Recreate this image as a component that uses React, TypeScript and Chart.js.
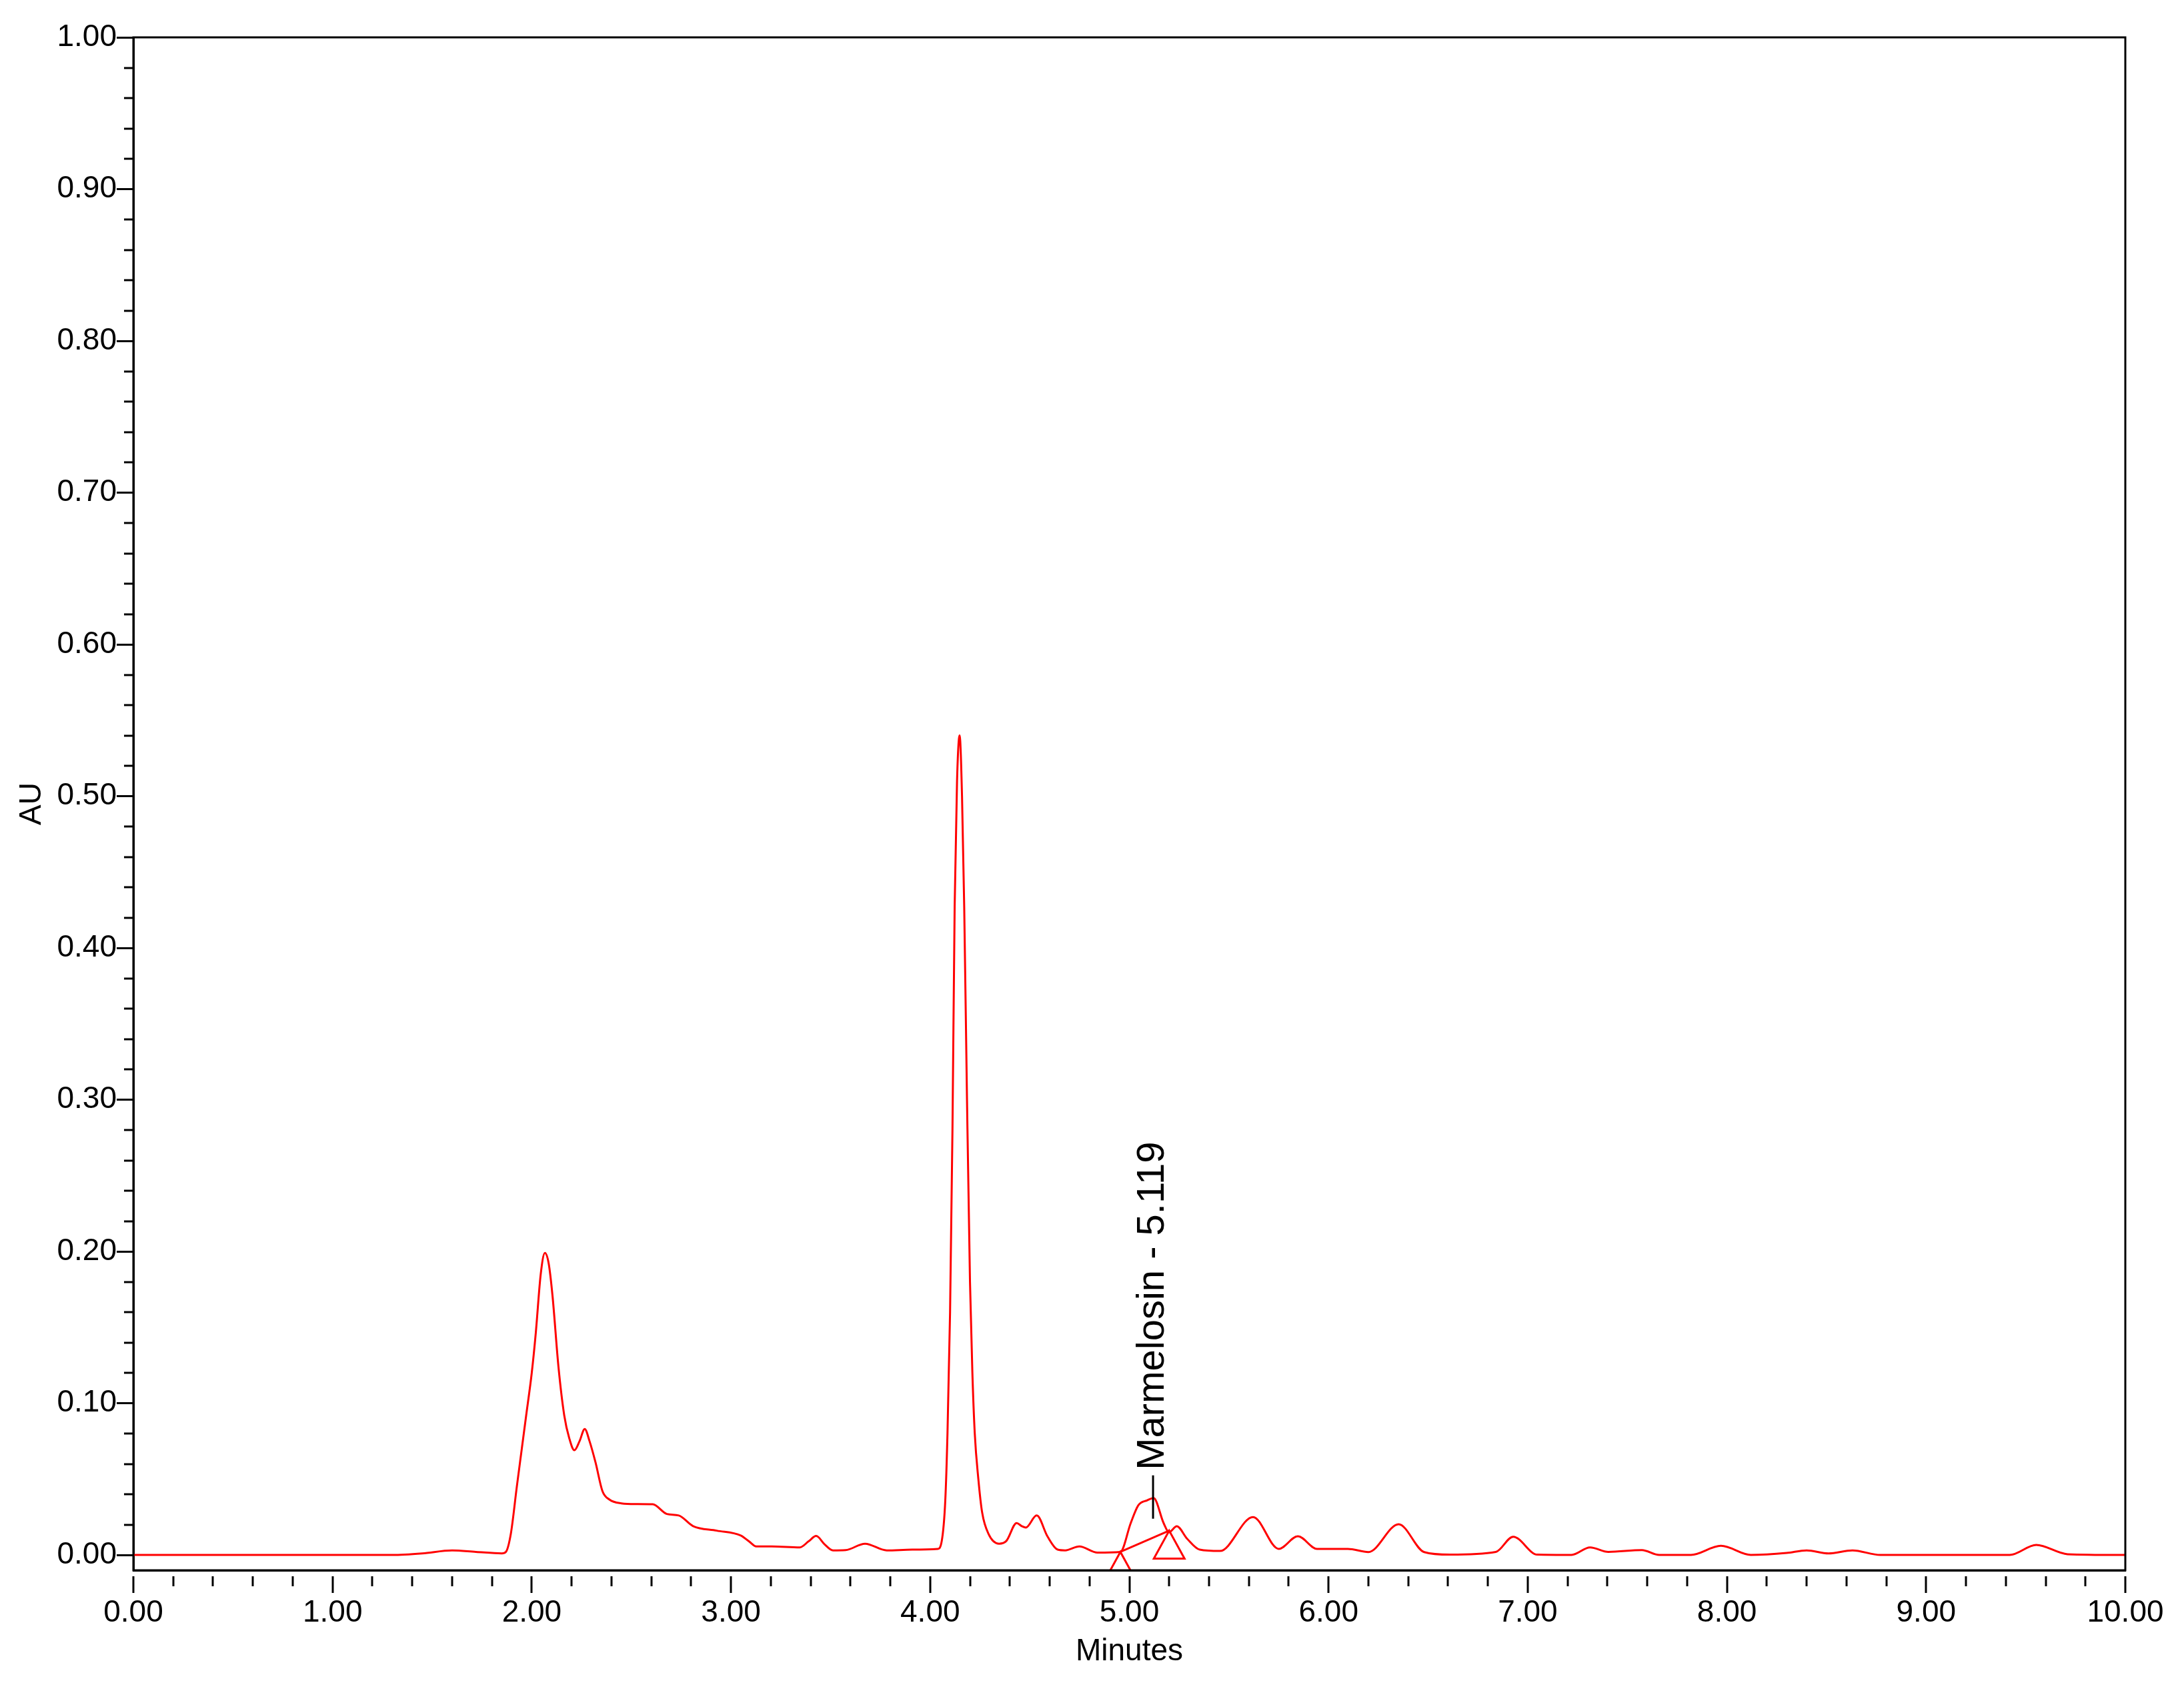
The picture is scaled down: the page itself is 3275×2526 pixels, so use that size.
import React, { useEffect, useRef } from 'react';
import { Chart, registerables } from 'chart.js';

Chart.register(...registerables);

// ---- data ----
const timeMin: number[] = [
  0.0, 0.3, 0.6, 1.0, 1.3, 1.45, 1.6, 1.72, 1.85,
  1.87, 1.895, 1.925, 1.95, 1.972, 2.0, 2.02, 2.045, 2.066, 2.085, 2.104, 2.134, 2.163, 2.188, 2.214,
  2.24, 2.266, 2.29, 2.32, 2.355, 2.39, 2.45, 2.52, 2.607, 2.678, 2.738, 2.81, 2.929, 3.049, 3.09,
  3.127, 3.204, 3.346, 3.39, 3.428, 3.47, 3.512, 3.576, 3.673, 3.782, 3.91, 4.038, 4.058, 4.076,
  4.087, 4.1, 4.112, 4.123, 4.135, 4.148, 4.16, 4.171, 4.185, 4.2, 4.212, 4.224, 4.242, 4.261, 4.294,
  4.346, 4.383, 4.434, 4.46, 4.48, 4.535, 4.589, 4.64, 4.678, 4.749, 4.84, 4.955,
  5.007, 5.045, 5.09, 5.122, 5.172, 5.199, 5.238, 5.29, 5.353, 5.455, 5.621, 5.75, 5.846, 5.942,
  6.097, 6.2, 6.352, 6.48, 6.61, 6.84, 6.927, 7.048, 7.22, 7.313, 7.405, 7.573, 7.66, 7.82, 7.97,
  8.12, 8.3, 8.4, 8.51, 8.63, 8.77, 9.42, 9.553, 9.71, 10.0,
];
const absorbance: number[] = [
  0.0, 0.0, 0.0, 0.0, 0.0, 0.001, 0.003, 0.002, 0.001,
  0.002, 0.014, 0.045, 0.07, 0.092, 0.12, 0.146, 0.185, 0.199, 0.192, 0.171, 0.124, 0.092, 0.077, 0.069,
  0.075, 0.083, 0.075, 0.061, 0.042, 0.0365, 0.034, 0.0335, 0.0334, 0.027, 0.026, 0.019, 0.016, 0.0128, 0.009,
  0.0056, 0.0056, 0.005, 0.009, 0.0125, 0.007, 0.003, 0.0032, 0.0074, 0.003, 0.0035, 0.004, 0.009, 0.036,
  0.08, 0.16, 0.28, 0.427, 0.51, 0.54, 0.5, 0.427, 0.3, 0.18, 0.12, 0.08, 0.05, 0.028, 0.0136,
  0.0074, 0.0093, 0.021, 0.019, 0.018, 0.026, 0.0122, 0.0035, 0.003, 0.0056, 0.0015, 0.002,
  0.021, 0.0327, 0.036, 0.0375, 0.021, 0.015, 0.0189, 0.0107, 0.0035, 0.0026, 0.025, 0.004, 0.0123, 0.004,
  0.004, 0.0019, 0.0202, 0.0019, 0.0002, 0.002, 0.012, 0.0002, 0.0, 0.005, 0.002, 0.0032, 0.0, 0.0, 0.006,
  0.0, 0.0013, 0.003, 0.001, 0.003, 0.0, 0.0, 0.0066, 0.0005, 0.0,
];

// integration baseline of the labelled peak (start, end)
const baselineTimes: number[] = [4.955, 5.2];
const baselineValues: number[] = [0.002, 0.016];

// labelled peak
const peakLabel = 'Marmelosin - 5.119';
const peakTime = 5.119;
const peakValue = 0.0375;

// axes
const xMajorTicks: number[] = [0, 1, 2, 3, 4, 5, 6, 7, 8, 9, 10];
const yMajorTicks: number[] = [0, 0.1, 0.2, 0.3, 0.4, 0.5, 0.6, 0.7, 0.8, 0.9, 1.0];
const xMinorStep = 0.2;
const yMinorStep = 0.02;
const xMin = 0;
const xMax = 10;
const yMin = -0.0101;
const yMax = 1.0;

const FONT = '"Liberation Sans", Arial, Helvetica, sans-serif';
const RED = '#ff0000';

const chromPlugin = {
  id: 'chromDecor',
  beforeDraw(chart: any) {
    const { ctx, width, height } = chart;
    ctx.save();
    ctx.fillStyle = '#ffffff';
    ctx.fillRect(0, 0, width, height);
    ctx.restore();
  },
  afterDraw(chart: any) {
    const { ctx, chartArea: a } = chart;
    const xs = chart.scales.x;
    const ys = chart.scales.y;
    ctx.save();

    // integration triangles (apex at baseline ends), clipped to plot
    ctx.save();
    ctx.beginPath();
    ctx.rect(a.left, a.top, a.right - a.left, a.bottom - a.top);
    ctx.clip();
    ctx.strokeStyle = RED;
    ctx.lineWidth = 3;
    for (let i = 0; i < baselineTimes.length; i++) {
      const px = xs.getPixelForValue(baselineTimes[i]);
      const py = ys.getPixelForValue(baselineValues[i]);
      ctx.beginPath();
      ctx.moveTo(px, py);
      ctx.lineTo(px - 23, py + 42);
      ctx.lineTo(px + 23, py + 42);
      ctx.closePath();
      ctx.stroke();
    }
    ctx.restore();

    // frame
    ctx.strokeStyle = '#000';
    ctx.lineWidth = 3;
    ctx.strokeRect(a.left, a.top, a.right - a.left, a.bottom - a.top);

    // x ticks (detached below axis)
    ctx.lineWidth = 3;
    const nx = Math.round((xMax - xMin) / xMinorStep);
    for (let i = 0; i <= nx; i++) {
      const v = xMin + i * xMinorStep;
      const major = xMajorTicks.some((m) => Math.abs(m - v) < 1e-6);
      const px = Math.round(xs.getPixelForValue(v));
      ctx.beginPath();
      ctx.moveTo(px, a.bottom + 9);
      ctx.lineTo(px, a.bottom + (major ? 34 : 24));
      ctx.stroke();
    }
    // y minor ticks
    const ny = Math.round((yMax - 0) / yMinorStep);
    for (let i = 0; i <= ny; i++) {
      const v = i * yMinorStep;
      const major = yMajorTicks.some((m) => Math.abs(m - v) < 1e-6);
      if (major) continue;
      const py = Math.round(ys.getPixelForValue(v));
      ctx.beginPath();
      ctx.moveTo(a.left - 14, py);
      ctx.lineTo(a.left, py);
      ctx.stroke();
    }

    // peak label
    const lx = xs.getPixelForValue(peakTime);
    const ly = ys.getPixelForValue(peakValue);
    ctx.strokeStyle = '#000';
    ctx.lineWidth = 3;
    ctx.beginPath();
    ctx.moveTo(lx, ly + 31);
    ctx.lineTo(lx, ly - 34);
    ctx.stroke();
    ctx.save();
    ctx.translate(lx + 16, ly - 42);
    ctx.rotate(-Math.PI / 2);
    ctx.fillStyle = '#000';
    ctx.font = `58px ${FONT}`;
    ctx.textAlign = 'left';
    ctx.textBaseline = 'alphabetic';
    ctx.fillText(peakLabel, 0, 0);
    ctx.restore();

    ctx.restore();
  },
};

export default function App() {
  const canvasRef = useRef<HTMLCanvasElement | null>(null);

  useEffect(() => {
    const canvas = canvasRef.current;
    if (!canvas) return;
    const chart = new Chart(canvas, {
      type: 'line',
      data: {
        datasets: [
          {
            label: 'AU',
            data: timeMin.map((t, i) => ({ x: t, y: absorbance[i] })),
            borderColor: RED,
            borderWidth: 3,
            pointRadius: 0,
            fill: false,
            cubicInterpolationMode: 'monotone',
          },
          {
            label: 'baseline',
            data: baselineTimes.map((t, i) => ({ x: t, y: baselineValues[i] })),
            borderColor: RED,
            borderWidth: 3,
            pointRadius: 0,
            fill: false,
            tension: 0,
          },
        ],
      },
      options: {
        animation: false,
        responsive: false,
        maintainAspectRatio: false,
        devicePixelRatio: 1,
        events: [],
        layout: { padding: { top: 56, right: 88, bottom: 0, left: 0 } },
        plugins: {
          legend: { display: false },
          tooltip: { enabled: false },
          title: { display: false },
        },
        scales: {
          x: {
            type: 'linear',
            min: xMin,
            max: xMax,
            afterBuildTicks: (s: any) => {
              s.ticks = xMajorTicks.map((v) => ({ value: v }));
            },
            afterFit: (s: any) => {
              s.height = 172;
            },
            ticks: {
              callback: (v: any) => Number(v).toFixed(2),
              color: '#000',
              font: { family: FONT, size: 46 },
              padding: 3,
              maxRotation: 0,
              autoSkip: false,
            },
            grid: {
              display: true,
              drawOnChartArea: false,
              drawTicks: true,
              tickLength: 34,
              tickColor: 'rgba(0,0,0,0)',
            },
            border: { display: true, color: '#000', width: 3 },
            title: {
              display: true,
              text: 'Minutes',
              color: '#000',
              font: { family: FONT, size: 46 },
              padding: { top: 0, bottom: 22 },
            },
          },
          y: {
            type: 'linear',
            min: yMin,
            max: yMax,
            afterBuildTicks: (s: any) => {
              s.ticks = yMajorTicks.map((v) => ({ value: v }));
            },
            afterFit: (s: any) => {
              s.width = 200;
            },
            ticks: {
              callback: (v: any) => Number(v).toFixed(2),
              color: '#000',
              font: { family: FONT, size: 46 },
              padding: 0,
              autoSkip: false,
            },
            grid: {
              display: true,
              drawOnChartArea: false,
              drawTicks: true,
              tickLength: 25,
              tickWidth: 3,
              tickColor: '#000',
            },
            border: { display: true, color: '#000', width: 3 },
            title: {
              display: true,
              text: 'AU',
              color: '#000',
              font: { family: FONT, size: 46 },
              padding: { top: 21, bottom: 0 },
            },
          },
        },
      },
      plugins: [chromPlugin],
    } as any);
    return () => chart.destroy();
  }, []);

  return (
    <div style={{ position: 'absolute', left: 0, top: 0, width: 3275, height: 2526, background: '#fff' }}>
      <canvas ref={canvasRef} width={3275} height={2526} style={{ display: 'block', width: 3275, height: 2526 }} />
    </div>
  );
}
